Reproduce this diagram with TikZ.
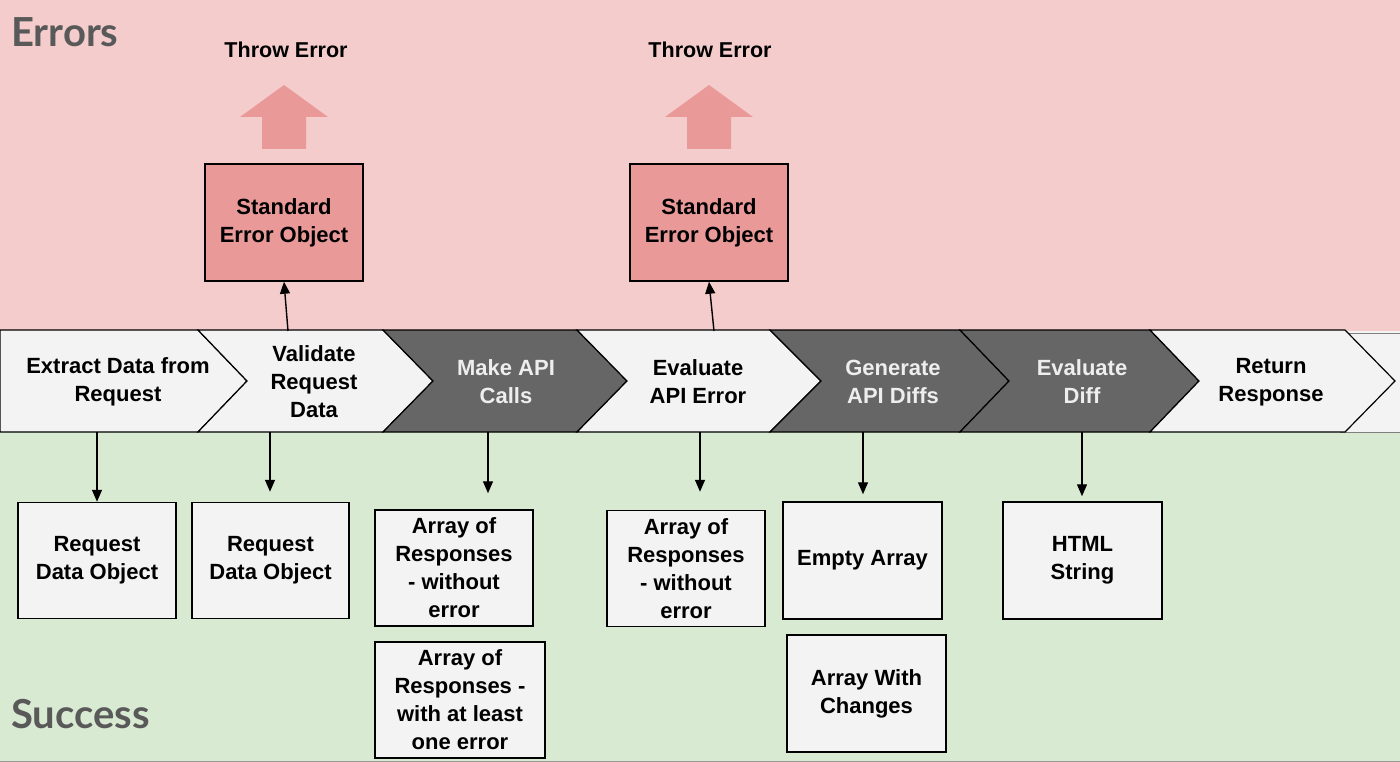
\documentclass[tikz,border=0pt]{standalone}
\usepackage{fontspec}
\setmainfont{Liberation Sans}
\newfontfamily\zonefont{Lato}
\usetikzlibrary{arrows.meta}
\definecolor{errbg}{HTML}{F4CCCC}
\definecolor{okbg}{HTML}{D9EAD3}
\definecolor{lightfill}{HTML}{F3F3F3}
\definecolor{darkfill}{HTML}{666666}
\definecolor{errfill}{HTML}{EA9999}
\definecolor{labelgrey}{HTML}{595959}
\definecolor{paletext}{HTML}{EEEEEE}
\begin{document}
\begin{tikzpicture}[x=1pt,y=-1pt,
  txt/.style={align=center,font=\fontsize{22}{28}\selectfont\bfseries,inner sep=0pt},
  lighttxt/.style={txt,text=black},
  darktxt/.style={txt,text=paletext},
  chevlight/.style={fill=lightfill,draw=black,line width=1.2pt,line join=miter},
  chevdark/.style={fill=darkfill,draw=black,line width=1.2pt,line join=miter},
  errbox/.style={draw=black,line width=1.5pt,fill=errfill,txt,minimum width=158pt,minimum height=117pt},
  outbox/.style={draw=black,line width=1.5pt,fill=lightfill,txt,minimum width=158pt,minimum height=116pt},
  blockarrow/.style={fill=errfill},
  arr/.style={line width=1.4pt,-{Triangle[length=12pt,width=10pt]}},
  zone/.style={font=\zonefont\fontsize{40}{44}\selectfont\bfseries,text=labelgrey,anchor=base west,inner sep=0pt},
  throw/.style={font=\fontsize{21.5}{24}\selectfont\bfseries,inner sep=0pt}
]
\useasboundingbox (0,0) rectangle (1400,762);
% backgrounds
\fill[errbg] (0,0) rectangle (1400,332);
\fill[okbg] (0,432) rectangle (1400,762);
\fill[lightfill] (0,331) rectangle (1400,432);
\draw[gray,line width=1pt] (1340,333) -- (1400,333);
\draw[gray,line width=1pt] (1340,432) -- (1400,432);
\draw[gray!80,line width=1pt] (0,761) -- (1400,761);
% chevrons
\draw[chevlight] (0,330) -- (198,330) -- (247,381) -- (198,432) -- (0,432) -- cycle;
\draw[chevlight] (198,330) -- (383,330) -- (433,381) -- (383,432) -- (198,432) -- (247,381) -- cycle;
\draw[chevdark] (383,330) -- (577,330) -- (627,381) -- (577,432) -- (383,432) -- (433,381) -- cycle;
\draw[chevlight] (577,330) -- (770,330) -- (821,381) -- (770,432) -- (577,432) -- (627,381) -- cycle;
\draw[chevdark] (770,330) -- (960,330) -- (1009,381) -- (960,432) -- (770,432) -- (821,381) -- cycle;
\draw[chevdark] (960,330) -- (1150,330) -- (1199,381) -- (1150,432) -- (960,432) -- (1009,381) -- cycle;
\draw[chevlight] (1150,330) -- (1345,330) -- (1395,381) -- (1345,432) -- (1150,432) -- (1199,381) -- cycle;
% chevron labels
\node[lighttxt] (s1) at (118,382) {Extract Data from\\Request};
\node[lighttxt] (s2) at (314,382) {Validate\\Request\\Data};
\node[darktxt] (s3) at (506,382) {Make API\\Calls};
\node[lighttxt] (s4) at (698,382) {Evaluate\\API Error};
\node[darktxt] (s5) at (893,382) {Generate\\API Diffs};
\node[darktxt] (s6) at (1082,382) {Evaluate\\Diff};
\node[lighttxt] (s7) at (1271,382) {Return\\Response};
% zone labels
\node[zone] (zerr) at (11,47) {Errors};
\node[zone] (zok) at (11,728) {Success};
% error side
\node[throw] (t1) at (286,50) {Throw Error};
\node[throw] (t2) at (710,50) {Throw Error};
\fill[blockarrow] (240,117) -- (284,85) -- (328,117) -- (306,117) -- (306,149) -- (262,149) -- (262,117) -- cycle;
\fill[blockarrow] (665,117) -- (709,85) -- (753,117) -- (731,117) -- (731,149) -- (687,149) -- (687,117) -- cycle;
\node[errbox] (e1) at (284,222.5) {Standard\\Error Object};
\node[errbox] (e2) at (709,222.5) {Standard\\Error Object};
\coordinate (u2) at (288,331);
\coordinate (u4) at (714,331);
\draw[arr] (u2) -- (e1.south);
\draw[arr] (u4) -- (e2.south);
% success side
\node[outbox] (oA) at (97,560.5) {Request\\Data Object};
\node[outbox,minimum width=157pt] (oB) at (270.5,560.5) {Request\\Data Object};
\node[outbox] (oC1) at (454,568) {Array of\\Responses\\- without\\error};
\node[outbox,minimum width=170pt] (oC2) at (460,700) {Array of\\Responses -\\with at least\\one error};
\node[outbox] (oD) at (686,568.5) {Array of\\Responses\\- without\\error};
\node[outbox,minimum width=159pt,minimum height=117pt] (oE1) at (862.5,560.5) {Empty Array};
\node[outbox,minimum width=159pt,minimum height=117pt] (oE2) at (866.5,693.5) {Array With\\Changes};
\node[outbox,minimum width=159pt,minimum height=117pt] (oF) at (1082.5,560.5) {HTML\\String};
\coordinate (dA) at (97,432);
\coordinate (dB) at (270,432);
\coordinate (dC) at (488,432);
\coordinate (dD) at (700,432);
\coordinate (dE) at (863,432);
\coordinate (dF) at (1082,432);
\draw[arr] (dA) -- (dA |- oA.north);
\draw[arr,shorten >=10pt] (dB) -- (dB |- oB.north);
\draw[arr,shorten >=16pt] (dC) -- (dC |- oC1.north);
\draw[arr,shorten >=18pt] (dD) -- (dD |- oD.north);
\draw[arr,shorten >=7pt] (dE) -- (dE |- oE1.north);
\draw[arr,shorten >=5pt] (dF) -- (dF |- oF.north);
\end{tikzpicture}
\end{document}
